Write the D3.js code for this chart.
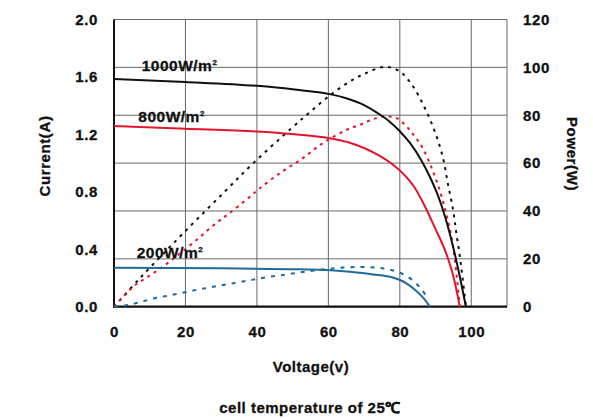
<!DOCTYPE html>
<html><head><meta charset="utf-8">
<script src="https://cdn.jsdelivr.net/npm/d3@7"></script>
<style>
body{margin:0;background:#fff;}
text{font-family:"Liberation Sans",Arial,sans-serif;font-weight:bold;fill:#111;stroke:#111;stroke-width:0.3px;}
</style></head>
<body>
<svg id="c" width="593" height="419"></svg>
<script>
// ---- data ----
const voltTicks = [0, 20, 40, 60, 80, 100];
const currentTicks = [0.0, 0.4, 0.8, 1.2, 1.6, 2.0];
const powerTicks = [0, 20, 40, 60, 80, 100, 120];

const iv1000V = [0, 20, 40, 50, 56, 60, 65, 70, 74, 77, 80, 83, 86, 88.5, 90.5, 92.5, 94.9, 96.8, 98.5];
const iv1000I = [1.585, 1.565, 1.538, 1.515, 1.497, 1.482, 1.452, 1.404, 1.345, 1.292, 1.222, 1.135, 1.02, 0.9, 0.785, 0.64, 0.418, 0.209, 0];

const iv800V = [0, 20, 40, 52, 60, 66, 70, 74, 78, 81, 84, 87, 90, 93, 95, 96.8];
const iv800I = [1.259, 1.24, 1.22, 1.198, 1.175, 1.142, 1.105, 1.055, 0.99, 0.925, 0.835, 0.70, 0.54, 0.37, 0.21, 0];

const iv200V = [0, 30, 52, 59.5, 66, 72.5, 78, 81.5, 84.7, 87, 88.4];
const iv200I = [0.272, 0.267, 0.26, 0.255, 0.243, 0.225, 0.203, 0.168, 0.108, 0.05, 0];

const pv1000V = [0, 7.7, 20.5, 31, 39, 49.7, 55, 61.3, 66.9, 70.7, 75.8, 80, 83.7, 87, 89.8, 92.1, 93.5, 94.9, 95.8, 96.8, 97.6, 98.5];
const pv1000P = [0, 12.6, 32.4, 48.1, 60, 74.6, 81.5, 89.3, 94.9, 97.7, 100.2, 98.3, 92, 83, 73.2, 62.1, 51, 40.5, 31, 21, 11.5, 0];

const pv800V = [0, 2.6, 5.4, 8.7, 14.3, 23.1, 28.7, 32, 37.6, 40.6, 46.4, 52.5, 58.5, 65.1, 68.8, 72.1, 75.3, 79.1, 81.9, 84.2, 86.5, 89.3, 91.5, 93.2, 94.6, 95.6, 96.8];
const pv800P = [0, 4.2, 8.4, 11.8, 17.4, 27.9, 35.1, 38.7, 45.4, 49.2, 55.8, 61.7, 68.4, 73.9, 76, 78.1, 79.5, 78.8, 75.3, 71.1, 66, 56.5, 47, 37.5, 28, 17, 0];

const pv200V = [0, 4, 7.7, 11, 14.7, 18.5, 22.2, 25.9, 29.6, 33.4, 37.1, 40, 43.6, 47.4, 51.1, 54.8, 58.5, 62.3, 66, 69.7, 73.5, 76.7, 80, 83.3, 86.1, 87.6];
const pv200P = [0, 0.7, 2.1, 3.4, 4.5, 5.6, 6.8, 7.8, 8.8, 9.8, 10.8, 11.6, 12.5, 13.3, 14.1, 14.9, 15.6, 16.1, 16.5, 16.6, 16.3, 15.6, 14.2, 11.4, 7.2, 3.8];

const irradianceLabels = ["1000W/m", "800W/m", "200W/m"];
const labelAnchors = [[7.75, 1.638], [6.8, 1.289], [6.35, 0.337]]; // [voltage, current] at label baseline start

const colBlack = "#111111", colRed = "#e3142d", colBlue = "#1f6a9b";

// ---- layout ----
const svg = d3.select("#c");
const L = 114, R = 507, T = 19.5, B = 306.7;
const x = d3.scaleLinear().domain([0, 110]).range([L, R]);
const yI = d3.scaleLinear().domain([0, 2]).range([B, T]);
const yP = d3.scaleLinear().domain([0, 120]).range([B, T]);

// grid
const g = svg.append("g");
g.selectAll("line.v").data(voltTicks.concat([110])).enter().append("line")
  .attr("x1", d => x(d)).attr("x2", d => x(d)).attr("y1", T).attr("y2", B)
  .attr("stroke", "#6a6a6a").attr("stroke-width", 1);
g.selectAll("line.h").data(powerTicks).enter().append("line")
  .attr("x1", L).attr("x2", R).attr("y1", d => yP(d)).attr("y2", d => yP(d))
  .attr("stroke", "#6a6a6a").attr("stroke-width", 1);

// axes
const axB = d3.axisBottom(x).tickValues(voltTicks).tickSize(0).tickPadding(20).tickFormat(d3.format("d"));
const axL = d3.axisLeft(yI).tickValues(currentTicks).tickSize(0).tickPadding(16).tickFormat(d3.format(".1f"));
const axR = d3.axisRight(yP).tickValues(powerTicks).tickSize(0).tickPadding(16).tickFormat(d3.format("d"));
function styleAx(sel){ sel.select(".domain").remove(); sel.selectAll("text").style("font-size","15px").style("font-family","Liberation Sans, Arial, sans-serif").style("font-weight","bold").attr("fill","#111").style("letter-spacing","0.6px"); }
svg.append("g").attr("transform", `translate(0,${B})`).call(axB).call(styleAx);
svg.append("g").attr("transform", `translate(${L},0)`).call(axL).call(styleAx);
svg.append("g").attr("transform", `translate(${R},0)`).call(axR).call(styleAx);

svg.append("line").attr("x1", L).attr("x2", L).attr("y1", T).attr("y2", B + 1).attr("stroke", "#111").attr("stroke-width", 2);
svg.append("line").attr("x1", L - 1).attr("x2", R).attr("y1", B).attr("y2", B).attr("stroke", "#111").attr("stroke-width", 2.2);

// curves
const lineI = d3.line().x(d => x(d[0])).y(d => yI(d[1])).curve(d3.curveMonotoneX);
const lineP = d3.line().x(d => x(d[0])).y(d => yP(d[1])).curve(d3.curveCatmullRom.alpha(0.5));
const zip = (a, b) => a.map((v, i) => [v, b[i]]);

const solids = [[iv1000V, iv1000I, colBlack], [iv800V, iv800I, colRed], [iv200V, iv200I, colBlue]];
const dashes = [[pv1000V, pv1000P, colBlack, "3,5"], [pv800V, pv800P, colRed, "3,4.5"], [pv200V, pv200P, colBlue, "4,6"]];

svg.append("g").selectAll("path").data(dashes).enter().append("path")
  .attr("d", d => lineP(zip(d[0], d[1]))).attr("fill", "none")
  .attr("stroke", d => d[2]).attr("stroke-width", 2).attr("stroke-dasharray", d => d[3]);
svg.append("g").selectAll("path").data(solids).enter().append("path")
  .attr("d", d => lineI(zip(d[0], d[1]))).attr("fill", "none")
  .attr("stroke", d => d[2]).attr("stroke-width", 2);

// irradiance labels
const lab = svg.append("g").selectAll("text").data(irradianceLabels).enter().append("text")
  .attr("x", (d, i) => x(labelAnchors[i][0])).attr("y", (d, i) => yI(labelAnchors[i][1]))
  .style("font-size", "15.5px").style("letter-spacing", "0.5px");
lab.append("tspan").text(d => d);
lab.append("tspan").text("2").attr("dy", -6).style("font-size", "8px");

// titles
svg.append("text").attr("transform", "translate(50,156) rotate(-90)").attr("text-anchor", "middle")
  .style("font-size", "15px").style("letter-spacing", "0.6px").text("Current(A)");
svg.append("text").attr("transform", "translate(567,154) rotate(90)").attr("text-anchor", "middle")
  .style("font-size", "15px").style("letter-spacing", "0.6px").text("Power(W)");
svg.append("text").attr("x", 311).attr("y", 372).attr("text-anchor", "middle")
  .style("font-size", "15px").style("letter-spacing", "0.5px").text("Voltage(v)");
svg.append("text").attr("x", 310).attr("y", 413).attr("text-anchor", "middle")
  .style("font-size", "15px").style("letter-spacing", "0.5px").text("cell temperature of 25℃");
</script>
</body></html>
